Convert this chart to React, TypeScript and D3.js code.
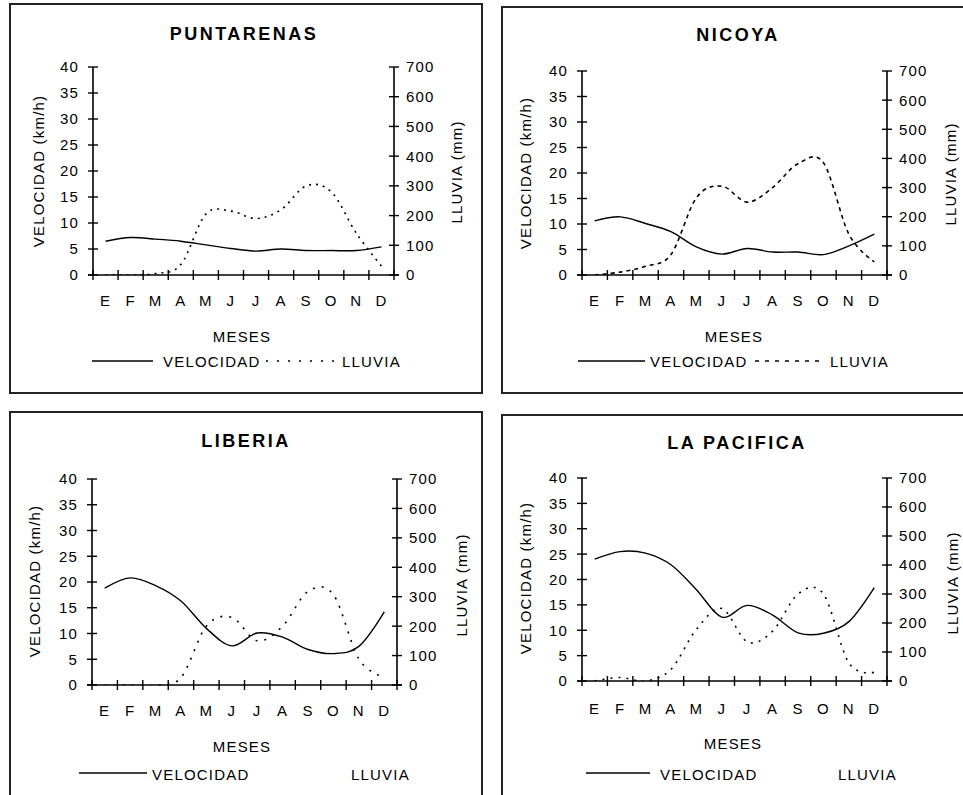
import React from 'react';
import * as d3 from 'd3';

const MONTHS = ['E', 'F', 'M', 'A', 'M', 'J', 'J', 'A', 'S', 'O', 'N', 'D'];
const VEL_TICKS = [0, 5, 10, 15, 20, 25, 30, 35, 40];
const RAIN_TICKS = [0, 100, 200, 300, 400, 500, 600, 700];
const STATIONS = ['PUNTARENAS', 'NICOYA', 'LIBERIA', 'LA PACIFICA'];
const SERIES_NAMES = ['VELOCIDAD', 'LLUVIA'];
const X_TITLE = 'MESES';
const Y_TITLE = 'VELOCIDAD (km/h)';
const Y2_TITLE = 'LLUVIA (mm)';

const VEL_PUNTARENAS = [6.5, 7.2, 6.9, 6.5, 5.8, 5.1, 4.6, 5.0, 4.7, 4.7, 4.7, 5.4];
const RAIN_PUNTARENAS = [0, 0, 5, 35, 205, 215, 190, 220, 300, 280, 140, 30];
const VEL_NICOYA = [10.6, 11.4, 10.1, 8.5, 5.5, 4.1, 5.2, 4.5, 4.5, 4.0, 5.7, 8.0];
const RAIN_NICOYA = [0, 10, 30, 70, 265, 305, 250, 300, 382, 385, 140, 45];
const VEL_LIBERIA = [18.8, 20.8, 19.3, 16.3, 11.0, 7.6, 10.1, 9.3, 6.9, 6.1, 7.5, 14.2];
const RAIN_LIBERIA = [0, 0, 0, 25, 200, 230, 150, 200, 318, 307, 88, 26];
const VEL_LAPACIFICA = [24.0, 25.5, 25.2, 22.9, 18.0, 12.6, 14.9, 13.0, 9.5, 9.4, 11.7, 18.4];
const RAIN_LAPACIFICA = [0, 12, 0, 40, 178, 250, 135, 172, 300, 300, 62, 30];

const VEL = [VEL_PUNTARENAS, VEL_NICOYA, VEL_LIBERIA, VEL_LAPACIFICA];
const RAIN = [RAIN_PUNTARENAS, RAIN_NICOYA, RAIN_LIBERIA, RAIN_LAPACIFICA];

// layout (positions only)
const LAYOUT = [
  {
    box: [10, 4, 482, 393], left: 93, right: 394, top: 67, bottom: 275,
    titleX: 244, titleY: 40, monthY: 306, mesesX: 242, mesesY: 342,
    yTitleX: 39, yTitleY: 171, rTitleX: 457, rTitleY: 172,
    legY: 361, legBase: 367, legLine: [92, 153], velTextX: 163, rainLine: [266, 334] as number[] | null, rainTextX: 342,
    dash: '2,5', legDash: '2,9',
  },
  {
    box: [502, 7, 990, 393], left: 582, right: 887, top: 71, bottom: 275,
    titleX: 738, titleY: 41, monthY: 306, mesesX: 734, mesesY: 342,
    yTitleX: 526, yTitleY: 173, rTitleX: 951, rTitleY: 174,
    legY: 361, legBase: 367, legLine: [578, 645], velTextX: 650, rainLine: [755, 821] as number[] | null, rainTextX: 830,
    dash: '4,4', legDash: '4,6',
  },
  {
    box: [10, 412, 482, 820], left: 92, right: 397, top: 479, bottom: 685,
    titleX: 246, titleY: 447, monthY: 716, mesesX: 242, mesesY: 752,
    yTitleX: 35, yTitleY: 581, rTitleX: 462, rTitleY: 585,
    legY: 773, legBase: 780, legLine: [79, 147], velTextX: 152, rainLine: null as number[] | null, rainTextX: 351,
    dash: '2,7', legDash: '2,7',
  },
  {
    box: [502, 415, 990, 820], left: 582, right: 887, top: 478, bottom: 681,
    titleX: 737, titleY: 449, monthY: 714, mesesX: 733, mesesY: 749,
    yTitleX: 526, yTitleY: 578, rTitleX: 953, rTitleY: 583,
    legY: 773, legBase: 780, legLine: [586, 650], velTextX: 660, rainLine: null as number[] | null, rainTextX: 838,
    dash: '2,6', legDash: '2,6',
  },
];

const FONT = '"Liberation Sans", Arial, sans-serif';

function Panel({ idx }: { idx: number }) {
  const L = LAYOUT[idx];
  const vel = VEL[idx];
  const rain = RAIN[idx];
  const band = d3.scaleBand<number>().domain(d3.range(12)).range([L.left, L.right]).padding(0);
  const xc = (i: number) => (band(i) as number) + band.bandwidth() / 2;
  const yV = d3.scaleLinear().domain([0, 40]).range([L.bottom, L.top]);
  const yR = d3.scaleLinear().domain([0, 700]).range([L.bottom, L.top]);
  const curve = d3.curveCardinal.tension(0);
  const velPath = d3.line<number>().x((_, i) => xc(i)).y((d) => yV(d)).curve(curve)(vel) || '';
  const rainPath = d3.line<number>().x((_, i) => xc(i)).y((d) => yR(d)).curve(curve)(rain) || '';
  const clipId = `clip${idx}`;
  const bounds = d3.range(13).map((i) => (i < 12 ? (band(i) as number) : L.right));
  const [bx0, by0, bx1, by1] = L.box;
  const txt = { fontFamily: FONT, fontSize: 15, letterSpacing: 1.2, fill: '#000' } as const;
  return (
    <g>
      <rect x={bx0} y={by0} width={bx1 - bx0} height={by1 - by0} fill="none" stroke="#222" strokeWidth={2} />
      <defs>
        <clipPath id={clipId}>
          <rect x={L.left} y={L.top - 5} width={L.right - L.left} height={L.bottom - L.top + 5} />
        </clipPath>
      </defs>
      <text x={L.titleX} y={L.titleY} textAnchor="middle" style={{ fontFamily: FONT, fontSize: 18, fontWeight: 'bold', letterSpacing: 2.5 }}>
        {STATIONS[idx]}
      </text>
      {/* data lines */}
      <g clipPath={`url(#${clipId})`}>
        <path d={rainPath} fill="none" stroke="#000" strokeWidth={1.6} strokeDasharray={L.dash} />
        <path d={velPath} fill="none" stroke="#000" strokeWidth={1.4} />
      </g>
      {/* axes */}
      <line x1={L.left} x2={L.left} y1={L.top} y2={L.bottom} stroke="#000" strokeWidth={1.6} />
      <line x1={L.right} x2={L.right} y1={L.top} y2={L.bottom} stroke="#000" strokeWidth={1.6} />
      <line x1={L.left - 5} x2={L.right + 5} y1={L.bottom} y2={L.bottom} stroke="#000" strokeWidth={1.6} />
      {VEL_TICKS.map((t) => (
        <g key={'v' + t}>
          <line x1={L.left - 5} x2={L.left + 5} y1={yV(t)} y2={yV(t)} stroke="#000" strokeWidth={1.4} />
          <text x={L.left - 14} y={yV(t)} dy="0.36em" textAnchor="end" style={txt}>{t}</text>
        </g>
      ))}
      {RAIN_TICKS.map((t) => (
        <g key={'r' + t}>
          <line x1={L.right - 5} x2={L.right + 5} y1={yR(t)} y2={yR(t)} stroke="#000" strokeWidth={1.4} />
          <text x={L.right + 12} y={yR(t)} dy="0.36em" textAnchor="start" style={txt}>{t}</text>
        </g>
      ))}
      {bounds.map((bx, i) => (
        <line key={'x' + i} x1={bx} x2={bx} y1={L.bottom - 5} y2={L.bottom + 5} stroke="#000" strokeWidth={1.4} />
      ))}
      {MONTHS.map((m, i) => (
        <text key={'m' + i} x={xc(i)} y={L.monthY} textAnchor="middle" style={txt}>{m}</text>
      ))}
      <text x={L.mesesX} y={L.mesesY} textAnchor="middle" style={txt}>{X_TITLE}</text>
      <text transform={`translate(${L.yTitleX},${L.yTitleY}) rotate(-90)`} dy="0.36em" textAnchor="middle" style={txt}>{Y_TITLE}</text>
      <text transform={`translate(${L.rTitleX},${L.rTitleY}) rotate(-90)`} dy="0.36em" textAnchor="middle" style={txt}>{Y2_TITLE}</text>
      {/* legend */}
      <line x1={L.legLine[0]} x2={L.legLine[1]} y1={L.legY} y2={L.legY} stroke="#000" strokeWidth={1.4} />
      <text x={L.velTextX} y={L.legBase} style={txt}>{SERIES_NAMES[0]}</text>
      {L.rainLine && (
        <line x1={L.rainLine[0]} x2={L.rainLine[1]} y1={L.legY} y2={L.legY} stroke="#000" strokeWidth={1.6} strokeDasharray={L.legDash} />
      )}
      <text x={L.rainTextX} y={L.legBase} style={txt}>{SERIES_NAMES[1]}</text>
    </g>
  );
}

export default function App() {
  return (
    <svg width={963} height={795} style={{ position: 'absolute', left: 0, top: 0, background: '#fff' }}>
      <rect x={0} y={0} width={963} height={795} fill="#fff" />
      {[0, 1, 2, 3].map((i) => (
        <Panel key={i} idx={i} />
      ))}
    </svg>
  );
}
